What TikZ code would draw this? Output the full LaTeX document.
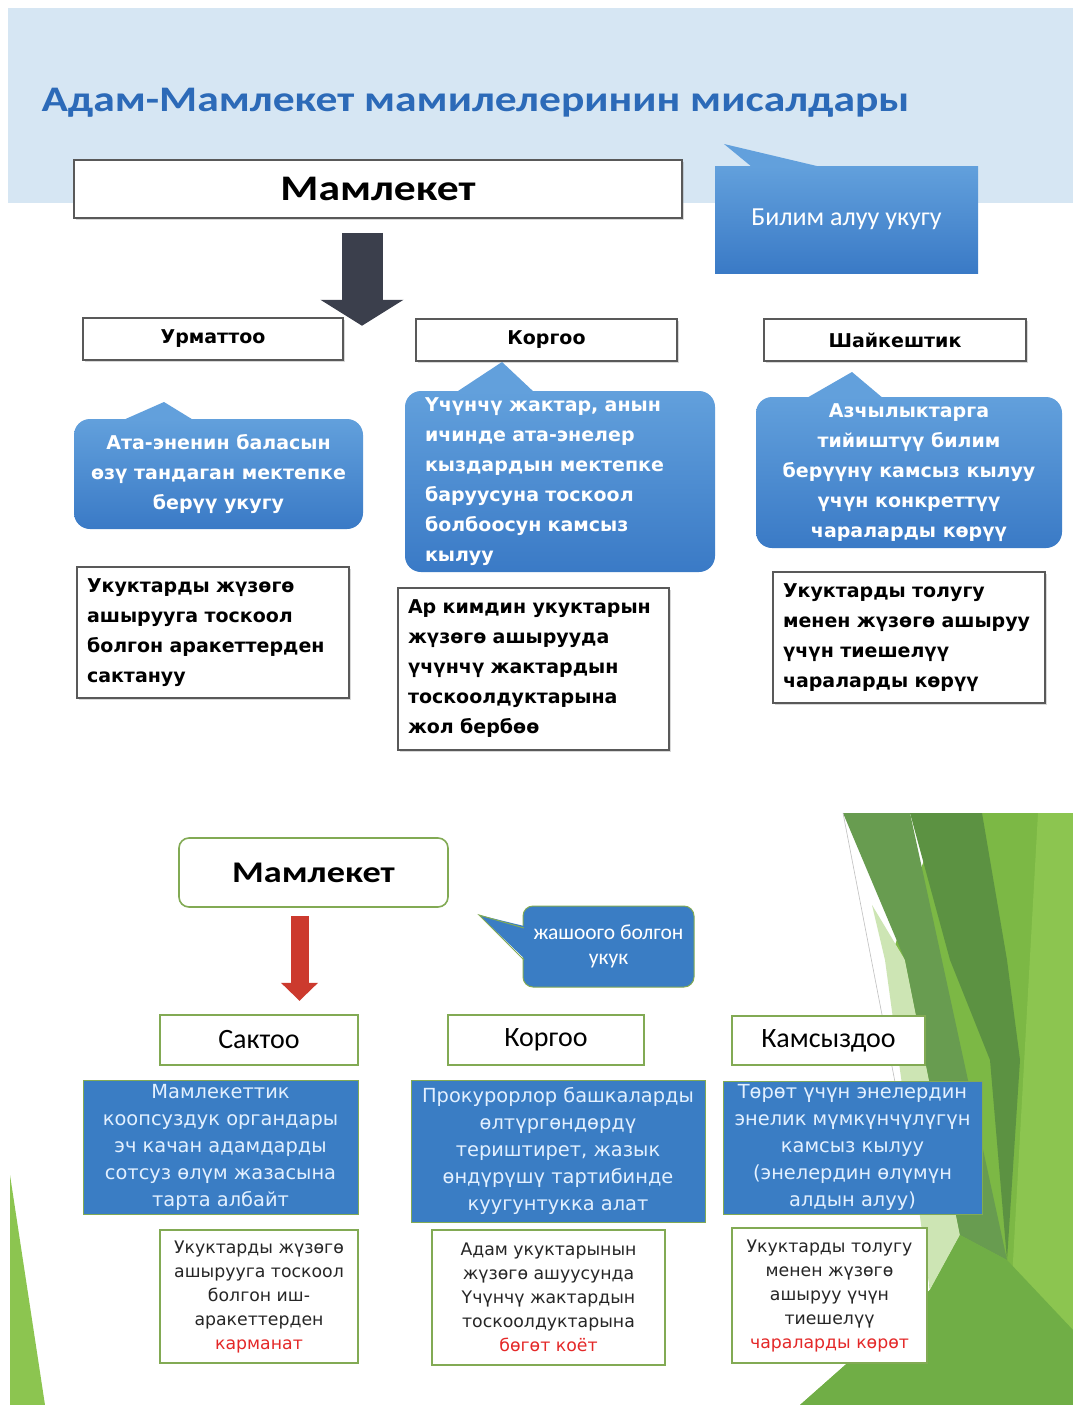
\documentclass[tikz,border=0pt]{standalone}
\usepackage{fontspec}
\usetikzlibrary{arrows.meta, calc, shadows}
\setmainfont{DejaVu Sans}
\newfontfamily\calfont[FakeStretch=1.21]{Carlito}
\newfontfamily\narfont{Carlito}
\newfontfamily\verfont{DejaVu Sans}

\definecolor{bandblue}{RGB}{214,230,243}
\definecolor{titleblue}{RGB}{44,106,184}
\definecolor{callhi}{RGB}{98,160,220}
\definecolor{calllo}{RGB}{58,122,198}
\definecolor{arrowgray}{RGB}{59,63,76}
\definecolor{boxblue}{RGB}{58,125,196}
\definecolor{leafgreen}{RGB}{130,170,84}
\definecolor{txtred}{RGB}{228,40,40}
\definecolor{paleblue}{RGB}{226,240,255}
\definecolor{greenolive}{RGB}{104,156,80}
\definecolor{greendark}{RGB}{92,146,66}
\definecolor{greenmid}{RGB}{112,174,70}
\definecolor{greenlight}{RGB}{124,184,69}
\definecolor{greenlime}{RGB}{140,197,80}
\definecolor{greenpale}{RGB}{205,229,180}
\definecolor{arrowred}{RGB}{204,58,46}

\tikzset{
  graybox/.style={draw=black!65, line width=1.5pt, fill=white, inner sep=0pt,
    drop shadow={shadow xshift=2pt, shadow yshift=-2pt, opacity=0.3}},
  headbox/.style={graybox, font=\verfont\bfseries\fontsize{19}{19}\selectfont},
  bubble/.style={rounded corners=16pt, top color=callhi, bottom color=calllo,
    text=white, inner sep=0pt, font=\verfont\bfseries\fontsize{19}{30}\selectfont},
  notebox/.style={graybox, inner xsep=10pt, align=left,
    font=\verfont\bfseries\fontsize{19}{30}\selectfont},
  leafbox/.style={draw=leafgreen, line width=1.6pt, fill=white, inner sep=0pt},
  tagbox/.style={leafbox, font=\narfont\fontsize{28}{28}\selectfont},
  bluebox/.style={draw=leafgreen, line width=1pt, fill=boxblue, text=paleblue,
    inner sep=0pt, align=center, font=\verfont\fontsize{19.4}{27}\selectfont},
  smallbox/.style={leafbox, align=center, text=black!85,
    font=\verfont\fontsize{17.3}{24}\selectfont},
}

\begin{document}
\begin{tikzpicture}[x=1pt, y=-1pt]
  \useasboundingbox (0,0) rectangle (1073,1405);
  \fill[white] (0,0) rectangle (1073,1405);

  % upper slide
  \fill[bandblue] (8,8) rectangle (1073,203);
  \node[anchor=base west, text=titleblue, font=\calfont\bfseries\fontsize{36}{36}\selectfont]
    (title) at (38,111) {Адам-Мамлекет мамилелеринин мисалдары};

  \node[graybox, minimum width=608pt, minimum height=58pt,
    font=\calfont\bfseries\fontsize{36}{36}\selectfont] (mam) at (378,189) {Мамлекет};

  % callout on the right
  \fill[callhi] (724,144) -- (752,167) -- (821,167) -- cycle;
  \node[top color=callhi, bottom color=calllo, text=white, minimum width=263pt,
    minimum height=107pt, font=\narfont\fontsize{26}{26}\selectfont] (bilim) at (846.5,219.5)
    {Билим алуу укугу};

  \draw[arrowgray, line width=41pt, -{Triangle[width=82pt, length=26pt]}]
    ($(mam.south)+(-16,14)$) -- ($(mam.south)+(-16,107)$);

  \node[headbox, minimum width=260pt, minimum height=42pt] (urm) at (213,339) {Урматтоо};
  \node[headbox, minimum width=261pt, minimum height=42pt] (korg) at (546.5,340) {Коргоо};
  \node[headbox, minimum width=262pt, minimum height=42pt] (shai) at (895,340) {Шайкештик};

  % blue bubbles
  \fill[callhi] (164,402) -- (121,421) -- (195,421) -- cycle;
  \node[bubble, minimum width=289pt, minimum height=110pt, align=center] (bub1) at (218.5,474)
    {Ата-эненин баласын\\өзү тандаган мектепке\\берүү укугу};
  \fill[callhi] (502,362) -- (455,393) -- (535,393) -- cycle;
  \node[bubble, minimum width=310pt, minimum height=181pt, text width=270pt, align=left]
    (bub2) at (560,481.5)
    {Үчүнчү жактар, анын\\ичинде ата-энелер\\кыздардын мектепке\\баруусуна тоскоол\\болбоосун камсыз\\кылуу};
  \fill[callhi] (852,372) -- (805,399) -- (884,399) -- cycle;
  \node[bubble, minimum width=306pt, minimum height=151pt, align=center] (bub3) at (909,472.5)
    {Азчылыктарга\\тийиштүү билим\\берүүнү камсыз кылуу\\үчүн конкреттүү\\чараларды көрүү};

  % notes
  \node[notebox, text width=252pt, minimum height=131pt] (note1) at (213,632.5)
    {Укуктарды жүзөгө\\ашырууга тоскоол\\болгон аракеттерден\\сактануу};
  \node[notebox, text width=251pt, minimum height=162pt] (note2) at (533.5,669)
    {Ар кимдин укуктарын\\жүзөгө ашырууда\\үчүнчү жактардын\\тоскоолдуктарына\\жол бербөө};
  \node[notebox, text width=252pt, minimum height=131pt] (note3) at (909,637.5)
    {Укуктарды толугу\\менен жүзөгө ашыруу\\үчүн тиешелүү\\чараларды көрүү};

  % lower slide, green facets
  \fill[greenlight] (940,813) -- (1073,813) -- (1073,1405) -- (800,1405) -- (930,1290)
    -- (890,960) -- cycle;
  \fill[greenlime] (1038,813) -- (1073,813) -- (1073,1405) -- (1005,1405) -- cycle;
  \fill[greenpale] (872,905) -- (905,960) -- (960,1235) -- (930,1290) -- (885,960) -- cycle;
  \fill[greenolive] (843,813) -- (910,813) -- (1007,1260) -- (960,1235) -- (905,960) -- cycle;
  \fill[greendark] (910,813) -- (982,813) -- (1007,960) -- (1020,1060) -- (1007,1260)
    -- (990,1060) -- (950,960) -- cycle;
  \fill[greenmid] (800,1405) -- (930,1290) -- (960,1235) -- (1007,1260) -- (1073,1330)
    -- (1073,1405) -- cycle;
  \draw[black!25, line width=0.6pt] (843,813) -- (912,1170);
  \fill[greenlime] (10,1175) -- (45,1405) -- (10,1405) -- cycle;

  \node[leafbox, rounded corners=10pt, minimum width=269pt, minimum height=69pt,
    font=\calfont\bfseries\fontsize{30}{30}\selectfont] (mam2) at (313.5,872.5) {Мамлекет};

  \draw[arrowred, line width=18pt, -{Triangle[width=36pt, length=18pt]}]
    ($(mam2.south)+(-14,8)$) -- ($(mam2.south)+(-14,93)$);

  % callout
  \node[rounded corners=10pt, draw=leafgreen, line width=1pt, fill=boxblue, text=white,
    minimum width=171pt, minimum height=81pt, align=center,
    font=\narfont\fontsize{21.5}{25}\selectfont] (life) at (608.5,946.5)
    {жашоого болгон\\укук};
  \fill[boxblue] (479,915) -- (528,927) -- (528,962) -- cycle;
  \draw[leafgreen, line width=1pt] (524,928) -- (479,915) -- (524,960);

  \node[tagbox, minimum width=198pt, minimum height=50pt] (sak) at (259,1040) {Сактоо};
  \node[tagbox, minimum width=196pt, minimum height=50pt] (kor2) at (546,1040) {Коргоо};
  \node[tagbox, minimum width=193pt, minimum height=49pt] (kam) at (828.5,1040.5) {Камсыздоо};

  \node[bluebox, minimum width=275pt, minimum height=134pt] (blue1) at (220.5,1147)
    {Мамлекеттик\\коопсуздук органдары\\эч качан адамдарды\\сотсуз өлүм жазасына\\тарта албайт};
  \node[bluebox, minimum width=294pt, minimum height=142pt] (blue2) at (558,1151)
    {Прокурорлор башкаларды\\өлтүргөндөрдү\\териштирет, жазык\\өндүрүшү тартибинде\\куугунтукка алат};
  \node[bluebox, minimum width=259pt, minimum height=133pt] (blue3) at (852.5,1147.5)
    {Төрөт үчүн энелердин\\энелик мүмкүнчүлүгүн\\камсыз кылуу\\(энелердин өлүмүн\\алдын алуу)};

  \node[smallbox, minimum width=198pt, minimum height=133pt] (wb1) at (259,1296.5)
    {Укуктарды жүзөгө\\ашырууга тоскоол\\болгон иш-\\аракеттерден\\\textcolor{txtred}{карманат}};
  \node[smallbox, minimum width=233pt, minimum height=135pt] (wb2) at (548.5,1297.5)
    {Адам укуктарынын\\жүзөгө ашуусунда\\Үчүнчү жактардын\\тоскоолдуктарына\\\textcolor{txtred}{бөгөт коёт}};
  \node[smallbox, minimum width=195pt, minimum height=135pt] (wb3) at (829.5,1295.5)
    {Укуктарды толугу\\менен жүзөгө\\ашыруу үчүн\\тиешелүү\\\textcolor{txtred}{чараларды көрөт}};
\end{tikzpicture}
\end{document}
